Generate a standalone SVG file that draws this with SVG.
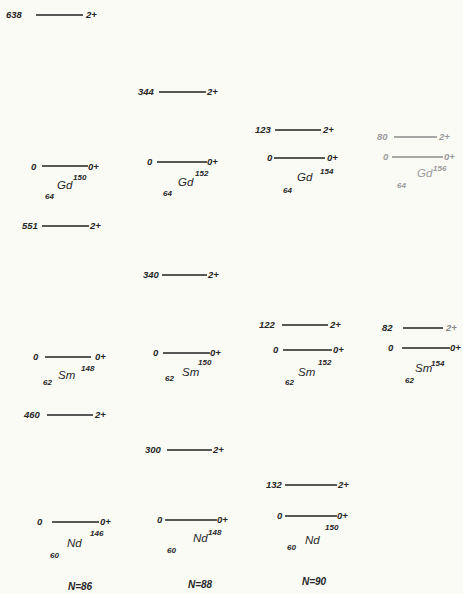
<svg xmlns="http://www.w3.org/2000/svg" width="463" height="594" viewBox="0 0 463 594">
<style>
text{font-family:"Liberation Sans",Arial,sans-serif;fill:#262626;font-style:italic;font-weight:bold}
.n{font-size:9.5px}
.el{font-size:11.5px;font-weight:normal}
.s{font-size:8px}
.lv{stroke:#222;stroke-width:1.3}
.faint text{fill:#9a9a9a}
.faint .lv{stroke:#8a8a8a}
.nn{font-size:10px}
</style>
<rect width="463" height="594" fill="#fbfbf6"/>

<g id="gd150">
<text class="n" x="6" y="18">638</text><line class="lv" x1="36" y1="15" x2="83" y2="15"/><text class="n" x="86" y="18">2+</text>
<text class="n" x="31" y="170">0</text><line class="lv" x1="42" y1="166" x2="88" y2="166"/><text class="n" x="88" y="170">0+</text>
<text class="el" x="57" y="189">Gd</text><text class="s" x="73" y="180">150</text><text class="s" x="45" y="199">64</text>
<text class="n" x="22" y="229">551</text><line class="lv" x1="42" y1="226" x2="89" y2="226"/><text class="n" x="90" y="229">2+</text>
</g>

<g id="gd152">
<text class="n" x="138" y="95">344</text><line class="lv" x1="159" y1="92" x2="206" y2="92"/><text class="n" x="207" y="95">2+</text>
<text class="n" x="147" y="165">0</text><line class="lv" x1="157" y1="162" x2="207" y2="162"/><text class="n" x="207" y="165">0+</text>
<text class="el" x="178" y="186">Gd</text><text class="s" x="195" y="176">152</text><text class="s" x="163" y="196">64</text>
</g>

<g id="gd154">
<text class="n" x="255" y="133">123</text><line class="lv" x1="275" y1="130" x2="321" y2="130"/><text class="n" x="323" y="133">2+</text>
<text class="n" x="267" y="161">0</text><line class="lv" x1="274" y1="158" x2="325" y2="158"/><text class="n" x="327" y="161">0+</text>
<text class="el" x="297" y="181">Gd</text><text class="s" x="320" y="174">154</text><text class="s" x="283" y="193">64</text>
</g>

<g id="gd156" class="faint">
<text class="n" x="377" y="140">80</text><line class="lv" x1="394" y1="137" x2="437" y2="137"/><text class="n" x="439" y="140">2+</text>
<text class="n" x="383" y="160">0</text><line class="lv" x1="392" y1="157" x2="443" y2="157"/><text class="n" x="444" y="160">0+</text>
<text class="el" x="417" y="177">Gd</text><text class="s" x="433" y="171">156</text><text class="s" x="397" y="188">64</text>
</g>

<g id="sm148">
<text class="n" x="33" y="360">0</text><line class="lv" x1="45" y1="357" x2="91" y2="357"/><text class="n" x="95" y="360">0+</text>
<text class="el" x="58" y="379">Sm</text><text class="s" x="81" y="371">148</text><text class="s" x="43" y="385">62</text>
<text class="n" x="24" y="418">460</text><line class="lv" x1="47" y1="415" x2="93" y2="415"/><text class="n" x="95" y="418">2+</text>
</g>

<g id="sm150">
<text class="n" x="143" y="278">340</text><line class="lv" x1="162" y1="275" x2="207" y2="275"/><text class="n" x="208" y="278">2+</text>
<text class="n" x="153" y="356">0</text><line class="lv" x1="163" y1="353" x2="210" y2="353"/><text class="n" x="210" y="356">0+</text>
<text class="el" x="182" y="376">Sm</text><text class="s" x="198" y="365">150</text><text class="s" x="165" y="381">62</text>
</g>

<g id="sm152">
<text class="n" x="259" y="328">122</text><line class="lv" x1="282" y1="325" x2="328" y2="325"/><text class="n" x="330" y="328">2+</text>
<text class="n" x="273" y="353">0</text><line class="lv" x1="283" y1="350" x2="332" y2="350"/><text class="n" x="333" y="353">0+</text>
<text class="el" x="298" y="376">Sm</text><text class="s" x="318" y="365">152</text><text class="s" x="285" y="385">62</text>
</g>

<g id="sm154">
<text class="n" x="382" y="331">82</text><line class="lv" x1="403" y1="328" x2="443" y2="328"/><text class="n" x="446" y="331" style="fill:#888">2+</text>
<text class="n" x="388" y="351">0</text><line class="lv" x1="402" y1="348" x2="450" y2="348"/><text class="n" x="450" y="351">0+</text>
<text class="el" x="415" y="372">Sm</text><text class="s" x="431" y="366">154</text><text class="s" x="405" y="383">62</text>
</g>

<g id="nd146">
<text class="n" x="37" y="525">0</text><line class="lv" x1="52" y1="522" x2="99" y2="522"/><text class="n" x="100" y="525">0+</text>
<text class="el" x="67" y="547">Nd</text><text class="s" x="90" y="536">146</text><text class="s" x="50" y="558">60</text>
</g>

<g id="nd148">
<text class="n" x="145" y="453">300</text><line class="lv" x1="167" y1="450" x2="212" y2="450"/><text class="n" x="213" y="453">2+</text>
<text class="n" x="157" y="523">0</text><line class="lv" x1="165" y1="520" x2="217" y2="520"/><text class="n" x="217" y="523">0+</text>
<text class="el" x="193" y="542">Nd</text><text class="s" x="208" y="535">148</text><text class="s" x="167" y="553">60</text>
</g>

<g id="nd150">
<text class="n" x="266" y="488">132</text><line class="lv" x1="285" y1="485" x2="337" y2="485"/><text class="n" x="338" y="488">2+</text>
<text class="n" x="277" y="519">0</text><line class="lv" x1="285" y1="516" x2="337" y2="516"/><text class="n" x="337" y="519">0+</text>
<text class="el" x="305" y="544">Nd</text><text class="s" x="325" y="530">150</text><text class="s" x="287" y="550">60</text>
</g>

<g id="nlabels">
<text class="nn" x="68" y="590">N=86</text>
<text class="nn" x="188" y="588">N=88</text>
<text class="nn" x="302" y="585">N=90</text>
</g>
</svg>
